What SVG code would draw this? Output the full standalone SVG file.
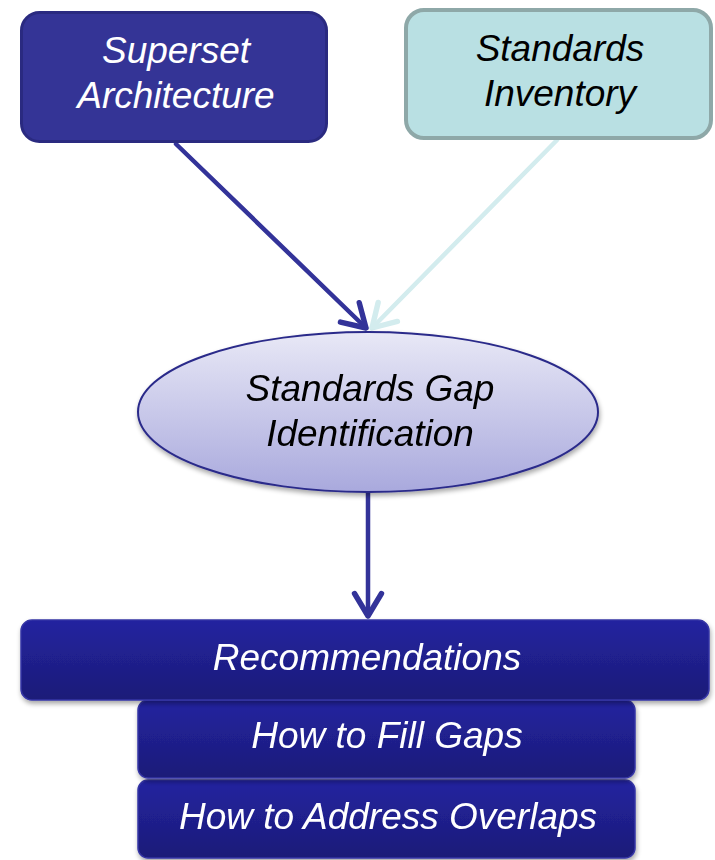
<svg xmlns="http://www.w3.org/2000/svg" width="715" height="860" viewBox="0 0 715 860">
<defs>
<linearGradient id="ellGrad" x1="0" y1="0" x2="0" y2="1">
<stop offset="0" stop-color="#e8e8f6"/>
<stop offset="1" stop-color="#a9a9dd"/>
</linearGradient>
<linearGradient id="recGrad" x1="0" y1="0" x2="0" y2="1">
<stop offset="0" stop-color="#2323a0"/>
<stop offset="1" stop-color="#1c1c78"/>
</linearGradient>
<filter id="shadow" x="-10%" y="-10%" width="120%" height="130%">
<feGaussianBlur in="SourceAlpha" stdDeviation="2.5"/>
<feOffset dx="1" dy="3" result="b"/>
<feComponentTransfer><feFuncA type="linear" slope="0.35"/></feComponentTransfer>
<feMerge><feMergeNode/><feMergeNode in="SourceGraphic"/></feMerge>
</filter>
<marker id="arrDark" markerWidth="8" markerHeight="8" refX="6" refY="4" orient="auto" markerUnits="strokeWidth">
<path d="M1,1 L6,4 L1,7" fill="none" stroke="#333399" stroke-width="1.2" stroke-linecap="round" stroke-linejoin="round"/>
</marker>
<marker id="arrLight" markerWidth="8" markerHeight="8" refX="6" refY="4" orient="auto" markerUnits="strokeWidth">
<path d="M1,1 L6,4 L1,7" fill="none" stroke="#d3ecee" stroke-width="1.2" stroke-linecap="round" stroke-linejoin="round"/>
</marker>
</defs>
<style>
.lbl{font-family:"Liberation Sans",Arial,sans-serif;font-style:italic;font-size:37px;text-anchor:middle}
.w{fill:#ffffff}
.k{fill:#000000}
.rec{fill:url(#recGrad);stroke:#3535a5;stroke-width:1.5}
</style>
<rect width="715" height="860" fill="#ffffff"/>
<g id="connectors" fill="none" stroke-width="4.5" stroke-linecap="round">
<line x1="176" y1="144" x2="366" y2="328" stroke="#333399" marker-end="url(#arrDark)"/>
<line x1="557" y1="140" x2="372" y2="328" stroke="#d3ecee" marker-end="url(#arrLight)"/>
<line x1="368" y1="493" x2="368" y2="616" stroke="#333399" marker-end="url(#arrDark)"/>
</g>
<g id="superset">
<rect x="21.5" y="12.5" width="305" height="129" rx="18" fill="#343496" stroke="#2a2a80" stroke-width="3"/>
<text class="lbl w" x="176" y="63">Superset</text>
<text class="lbl w" x="176" y="108">Architecture</text>
</g>
<g id="inventory">
<rect x="406" y="10" width="305" height="128" rx="18" fill="#b9e0e3" stroke="#8ea8a8" stroke-width="4"/>
<text class="lbl k" x="560" y="61">Standards</text>
<text class="lbl k" x="560" y="106">Inventory</text>
</g>
<g id="gap" filter="url(#shadow)">
<ellipse cx="368" cy="412" rx="230" ry="80" fill="url(#ellGrad)" stroke="#2a2a8a" stroke-width="2"/>
<text class="lbl k" x="370" y="401">Standards Gap</text>
<text class="lbl k" x="370" y="446">Identification</text>
</g>
<g id="overlaps" filter="url(#shadow)">
<rect class="rec" x="138" y="780" width="497" height="78" rx="10"/>
<text class="lbl w" x="388" y="829">How to Address Overlaps</text>
</g>
<g id="fillgaps" filter="url(#shadow)">
<rect class="rec" x="138" y="700" width="497" height="78" rx="10"/>
<text class="lbl w" x="387" y="748">How to Fill Gaps</text>
</g>
<g id="recommendations" filter="url(#shadow)">
<rect class="rec" x="21" y="620" width="688" height="80" rx="11"/>
<text class="lbl w" x="367" y="670">Recommendations</text>
</g>
</svg>
